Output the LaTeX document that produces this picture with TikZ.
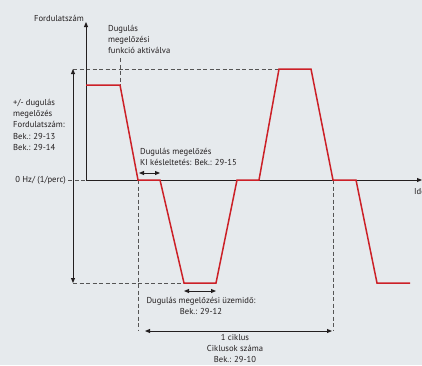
\documentclass[tikz,border=0pt]{standalone}
\usepackage{fontspec}
\setmainfont{PT Sans}
\usetikzlibrary{arrows.meta, positioning}
\definecolor{BgGray}{RGB}{230,234,237}
\definecolor{CurveRed}{RGB}{204,32,39}
\definecolor{AxisBlack}{RGB}{35,31,32}
\definecolor{DashGray}{RGB}{85,85,85}

\begin{document}
\begin{tikzpicture}[x=1pt, y=-1pt,
    lbl/.style={font=\fontsize{8.6}{11.3}\selectfont, text=AxisBlack,
                inner sep=0pt, align=left},
    axis/.style={-{Triangle[length=5pt, width=4pt]}, draw=AxisBlack,
                 line width=0.9pt},
    span/.style={{Triangle[length=5pt, width=4pt]}-{Triangle[length=5pt, width=4pt]},
                 draw=AxisBlack, line width=0.9pt},
    guide/.style={draw=DashGray, line width=0.8pt,
                  dash pattern=on 4pt off 2.5pt},
    curve/.style={draw=CurveRed, line width=1.5pt}
  ]
  \fill[BgGray] (0,0) rectangle (422,365);
  \useasboundingbox (0,0) rectangle (422,365);

  % axes and guide points
  \coordinate (o)    at (86,180);
  \coordinate (ytop) at (86,22);
  \coordinate (xend) at (422,180);
  \coordinate (zl)   at (68,180);
  \coordinate (ul)   at (73,69);
  \coordinate (ll)   at (73,283);
  \coordinate (act)  at (120,58);

  % speed curve
  \coordinate (p0)  at (86,85);
  \coordinate (p1)  at (120,85);
  \coordinate (p2)  at (138,180);
  \coordinate (p3)  at (160,180);
  \coordinate (p4)  at (184,283);
  \coordinate (p5)  at (216,283);
  \coordinate (p6)  at (237,180);
  \coordinate (p7)  at (259,180);
  \coordinate (p8)  at (279,69);
  \coordinate (p9)  at (311,69);
  \coordinate (p10) at (333,180);
  \coordinate (p11) at (356,180);
  \coordinate (p12) at (377,283);
  \coordinate (p13) at (410,283);

  % spans
  \coordinate (cyc1) at (138,330);
  \coordinate (cyc2) at (333,330);
  \coordinate (dA) at (139,173); \coordinate (dB) at (160,173);
  \coordinate (rA) at (184,291); \coordinate (rB) at (216,291);
  \coordinate (cA) at (145,331); \coordinate (cB) at (332,331);

  % dashed guides
  \draw[guide] (zl)--(o);
  \draw[guide] (ul)--(p8);
  \draw[guide] (ll)--(p4);
  \draw[guide] (act)--(p1);
  \draw[guide] (p2)--(cyc1);
  \draw[guide] (p10)--(cyc2);

  \draw[axis] (o)--(ytop);
  \draw[axis] (o)--(xend);
  \draw[span] (ul)--(ll);
  \draw[span] (dA)--(dB);
  \draw[span] (rA)--(rB);
  \draw[span] (cA)--(cB);

  \draw[curve] (p0)--(p1)--(p2)--(p3)--(p4)--(p5)--(p6)--(p7)
               --(p8)--(p9)--(p10)--(p11)--(p12)--(p13);

  % labels
  \node[lbl, anchor=east] (fordlbl) at (84,18) {Fordulatszám};
  \node[lbl, anchor=north west] (aktlbl) at (108,25)
        {Dugulás\\megelőzési\\funkció aktiválva};
  \node[lbl, anchor=north west] (speedlbl) at (13,99)
        {+/- dugulás\\megelőzés\\Fordulatszám:\\Bek.: 29-13\\Bek.: 29-14};
  \node[lbl, anchor=east] (zerolbl) at (66,180) {0 Hz/ (1/perc)};
  \node[lbl, anchor=north west] (delaylbl) at (140,148)
        {Dugulás megelőzés\\KI késleltetés: Bek.: 29-15};
  \node[lbl, anchor=north, align=center] (runlbl) at (201,297)
        {Dugulás megelőzési üzemidő:\\Bek.: 29-12};
  \node[lbl, anchor=north, align=center] (cyclbl) at (235,334)
        {1 ciklus\\Ciklusok száma\\Bek.: 29-10};
  \node[lbl, anchor=west] (timelbl) at (414,192) {Idő};
\end{tikzpicture}
\end{document}
